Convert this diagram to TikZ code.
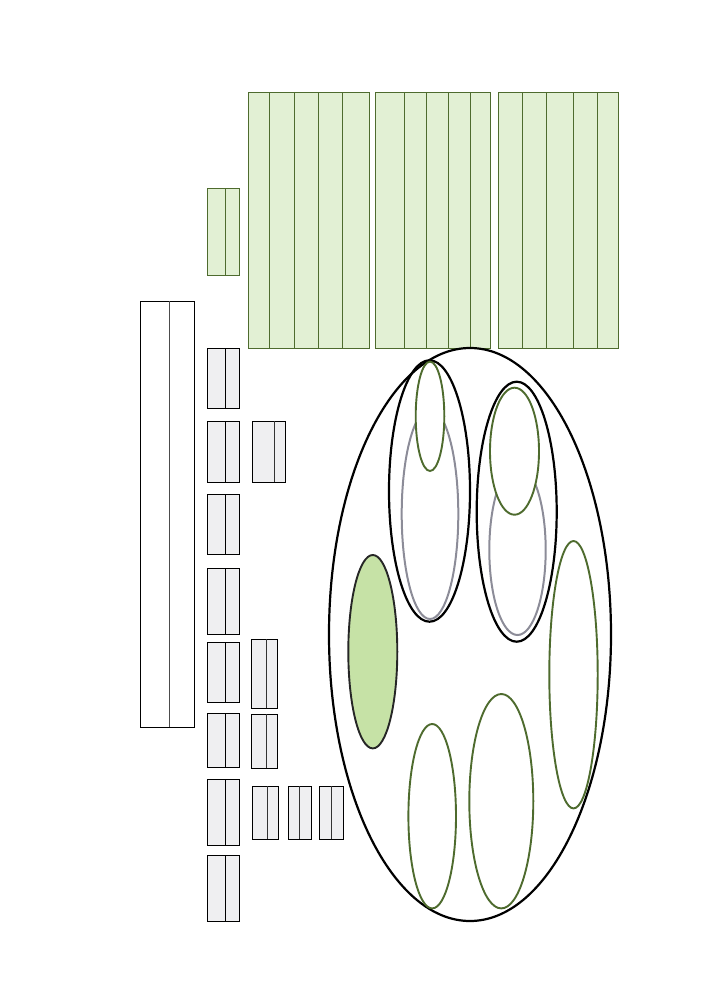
\documentclass[tikz,border=0pt]{standalone}
\usepackage{xcolor}
\usepackage{tikz}
\definecolor{leafgreen}{HTML}{E2F0D4}
\definecolor{leafedge}{HTML}{4E6B2E}
\definecolor{boxgray}{HTML}{EFEFF1}
\definecolor{ringgray}{HTML}{8C8C98}
\definecolor{blobgreen}{HTML}{C6E2A6}

\begin{document}
\begin{tikzpicture}[x=1pt,y=-1pt,
	greybox/.style={fill=boxgray,draw=black,line width=1pt},
	greenbox/.style={fill=leafgreen,draw=leafedge,line width=1pt},
	outerring/.style={draw=black,line width=2.2pt},
	greyring/.style={draw=ringgray,line width=2pt},
	greenring/.style={draw=leafedge,line width=1.9pt,fill=white}]
	\useasboundingbox (0,0) rectangle (702,999);

	% tall white box
	\draw[line width=1pt] (140,301) rectangle (194,727);
	\draw[line width=1pt,black!70] (169,301)--(169,727);

	% green key box
	\draw[greenbox] (207,188) rectangle (239,275);
	\draw[leafedge,line width=1pt] (225,188)--(225,275);

	% grey boxes, first column
	\foreach \yt/\yb in {348/408,421/482,494/554,568/634,642/702,713/767,779/845,855/921}{
		\draw[greybox] (207,\yt) rectangle (239,\yb);
		\draw[line width=1pt] (225,\yt)--(225,\yb);
	}
	% grey boxes, further out
	\foreach \xl/\xm/\xr/\yt/\yb in {252/274/285/421/482,251/266/277/639/708,251/266/277/714/768,
		252/267/278/786/839,288/299/311/786/839,319/331/343/786/839}{
		\draw[greybox] (\xl,\yt) rectangle (\xr,\yb);
		\draw[line width=1pt,black!80] (\xm,\yt)--(\xm,\yb);
	}

	% green panels
	\draw[greenbox] (248,92) rectangle (369,348);
	\foreach \x in {269,294,318,342}
		\draw[leafedge,line width=1pt] (\x,92)--(\x,348);
	\draw[greenbox] (375,92) rectangle (490,348);
	\foreach \x in {404,426,448,470}
		\draw[leafedge,line width=1pt] (\x,92)--(\x,348);
	\draw[greenbox] (498,92) rectangle (618,348);
	\foreach \x in {522,546,573,597}
		\draw[leafedge,line width=1pt] (\x,92)--(\x,348);

	% big ring and its parts
	\coordinate (O) at (470,634.5);
	\coordinate (L) at (429.5,491);
	\coordinate (R) at (516.7,511.7);
	\draw[outerring] (O) ellipse [x radius=141pt, y radius=286.5pt];
	\draw[outerring] (L) ellipse [x radius=40.5pt, y radius=130.7pt];
	\draw[outerring] (R) ellipse [x radius=40pt, y radius=130pt];

	\draw[greyring] (430,514) ellipse [x radius=28.3pt, y radius=105pt];
	\draw[greyring] (517.5,550) ellipse [x radius=28.2pt, y radius=85pt];

	\draw[greenring] (430,416.3) ellipse [x radius=14.3pt, y radius=54.7pt];
	\draw[greenring] (514.5,451.2) ellipse [x radius=24.5pt, y radius=63.5pt];
	\draw[greenring] (573.5,674.7) ellipse [x radius=24.2pt, y radius=133.7pt];
	\draw[greenring] (501.3,801.2) ellipse [x radius=32pt, y radius=107.2pt];
	\draw[greenring] (432.2,816.2) ellipse [x radius=23.8pt, y radius=92.2pt];

	\draw[fill=blobgreen,draw=black!85,line width=1.9pt] (372.8,651.7) ellipse [x radius=24.5pt, y radius=96.7pt];
\end{tikzpicture}
\end{document}
